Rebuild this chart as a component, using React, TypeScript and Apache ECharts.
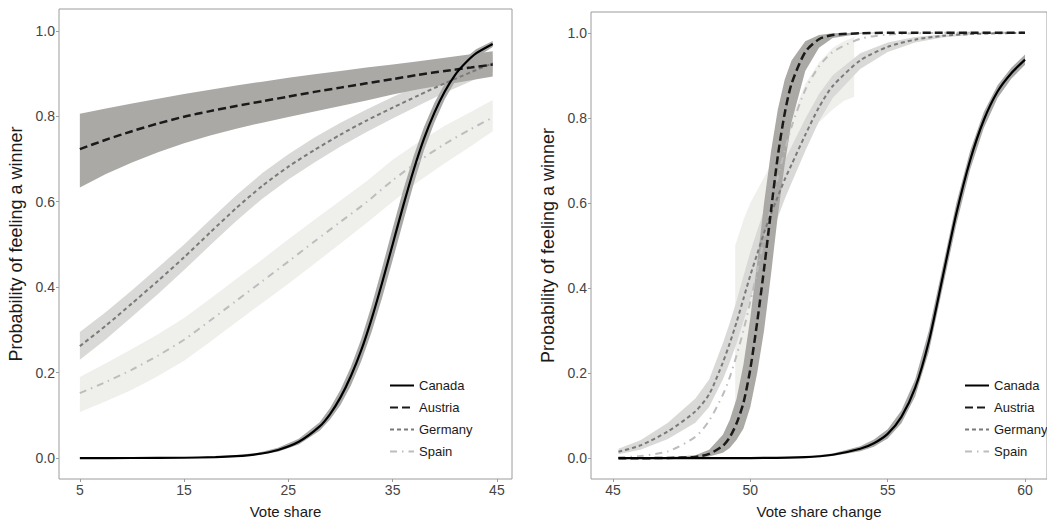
import React, { useEffect, useRef } from "react";
import * as echarts from "echarts";

// ---------- Left panel: Vote share ----------
const LEFT_X = [5, 7.5, 10, 12.5, 15, 17.5, 20, 22.5, 25, 27.5, 30, 32.5, 35, 37.5, 40, 42.5, 44.6];
const L_AUSTRIA = [0.723, 0.745, 0.765, 0.783, 0.799, 0.812, 0.824, 0.835, 0.846, 0.857, 0.867, 0.877, 0.887, 0.897, 0.906, 0.914, 0.921];
const L_AUSTRIA_HI = [0.806, 0.818, 0.83, 0.841, 0.852, 0.862, 0.872, 0.881, 0.89, 0.898, 0.906, 0.914, 0.921, 0.929, 0.937, 0.945, 0.952];
const L_AUSTRIA_LO = [0.633, 0.665, 0.692, 0.716, 0.737, 0.755, 0.771, 0.785, 0.798, 0.811, 0.824, 0.837, 0.851, 0.863, 0.874, 0.884, 0.893];
const L_GERMANY = [0.262, 0.31, 0.362, 0.415, 0.47, 0.528, 0.585, 0.637, 0.682, 0.721, 0.757, 0.79, 0.82, 0.849, 0.877, 0.903, 0.924];
const L_GERMANY_LO = [0.23, 0.278, 0.331, 0.384, 0.44, 0.498, 0.555, 0.607, 0.652, 0.692, 0.729, 0.763, 0.795, 0.825, 0.855, 0.882, 0.904];
const L_GERMANY_HI = [0.295, 0.342, 0.393, 0.446, 0.5, 0.558, 0.615, 0.667, 0.711, 0.75, 0.785, 0.816, 0.845, 0.872, 0.899, 0.923, 0.944];
const L_SPAIN = [0.152, 0.178, 0.207, 0.24, 0.277, 0.322, 0.368, 0.414, 0.46, 0.507, 0.553, 0.599, 0.65, 0.695, 0.735, 0.77, 0.797];
const L_SPAIN_LO = [0.108, 0.133, 0.16, 0.192, 0.228, 0.272, 0.318, 0.363, 0.408, 0.455, 0.502, 0.55, 0.6, 0.648, 0.69, 0.73, 0.765];
const L_SPAIN_HI = [0.19, 0.222, 0.255, 0.29, 0.328, 0.373, 0.419, 0.465, 0.512, 0.558, 0.603, 0.648, 0.698, 0.74, 0.778, 0.81, 0.838];
const L_CANADA_X = [5, 10, 15, 18, 20, 22, 24, 26, 28, 29, 30, 31, 32, 33, 34, 35, 36, 37, 38, 39, 40, 41, 42, 43, 44.6];
const L_CANADA = [0, 0.0001, 0.0007, 0.0022, 0.0045, 0.0092, 0.019, 0.038, 0.074, 0.103, 0.142, 0.192, 0.253, 0.327, 0.411, 0.5, 0.589, 0.673, 0.747, 0.808, 0.858, 0.897, 0.925, 0.947, 0.969];
const L_CANADA_LO = [0, 0, 0, 0.001, 0.003, 0.007, 0.015, 0.032, 0.064, 0.09, 0.124, 0.17, 0.227, 0.296, 0.376, 0.463, 0.552, 0.64, 0.72, 0.785, 0.84, 0.882, 0.913, 0.937, 0.962];
const L_CANADA_HI = [0.001, 0.001, 0.002, 0.004, 0.007, 0.012, 0.024, 0.045, 0.084, 0.117, 0.16, 0.214, 0.279, 0.358, 0.446, 0.537, 0.626, 0.706, 0.774, 0.831, 0.876, 0.912, 0.937, 0.957, 0.976];

// ---------- Right panel: Vote share change ----------
const RIGHT_X = [45.2, 46, 47, 48, 48.5, 49, 49.25, 49.5, 49.75, 50, 50.25, 50.5, 50.75, 51, 51.25, 51.5, 52, 52.5, 53, 54, 55, 56, 57, 58, 59, 60];
const R_AUSTRIA = [0, 0, 0.0005, 0.003, 0.01, 0.029, 0.049, 0.082, 0.13, 0.21, 0.32, 0.445, 0.58, 0.71, 0.81, 0.88, 0.955, 0.985, 0.995, 0.999, 1, 1, 1, 1, 1, 1];
const R_AUSTRIA_HI = [0, 0.0005, 0.002, 0.007, 0.02, 0.055, 0.09, 0.14, 0.22, 0.33, 0.46, 0.6, 0.72, 0.82, 0.89, 0.935, 0.98, 0.995, 0.999, 1, 1, 1, 1, 1, 1, 1];
const R_AUSTRIA_LO = [0, 0, 0, 0.001, 0.004, 0.013, 0.024, 0.043, 0.07, 0.12, 0.2, 0.3, 0.43, 0.57, 0.69, 0.79, 0.91, 0.965, 0.988, 0.998, 1, 1, 1, 1, 1, 1];
const R_GERMANY = [0.015, 0.03, 0.063, 0.11, 0.15, 0.225, 0.27, 0.32, 0.375, 0.43, 0.48, 0.53, 0.575, 0.615, 0.655, 0.69, 0.76, 0.825, 0.875, 0.935, 0.967, 0.984, 0.993, 0.997, 0.999, 1];
const R_GERMANY_LO = [0.009, 0.02, 0.045, 0.083, 0.12, 0.185, 0.225, 0.27, 0.322, 0.375, 0.425, 0.475, 0.523, 0.566, 0.609, 0.647, 0.722, 0.792, 0.847, 0.915, 0.955, 0.977, 0.989, 0.995, 0.998, 0.999];
const R_GERMANY_HI = [0.022, 0.042, 0.083, 0.14, 0.185, 0.27, 0.318, 0.37, 0.428, 0.485, 0.535, 0.583, 0.627, 0.664, 0.701, 0.733, 0.798, 0.856, 0.9, 0.952, 0.977, 0.99, 0.996, 0.999, 1, 1];
const R_SPAIN = [0.002, 0.005, 0.016, 0.05, 0.088, 0.149, 0.19, 0.242, 0.3, 0.368, 0.44, 0.515, 0.589, 0.66, 0.723, 0.779, 0.866, 0.921, 0.955, 0.986, 0.996, 0.999, 1, 1, 1, 1];
const R_SPAIN_BAND_X = [49.45, 49.75, 50, 50.25, 50.5, 50.75, 51, 51.25, 51.5, 52, 52.5, 53, 53.4, 53.78];
const R_SPAIN_HI = [0.5, 0.56, 0.6, 0.63, 0.66, 0.69, 0.73, 0.765, 0.8, 0.88, 0.93, 0.965, 0.98, 0.99];
const R_SPAIN_LO = [0.07, 0.14, 0.22, 0.33, 0.45, 0.53, 0.58, 0.63, 0.67, 0.74, 0.79, 0.82, 0.84, 0.85];
const R_CANADA_X = [45.2, 48, 50, 52, 53, 54, 54.5, 55, 55.5, 56, 56.5, 57, 57.5, 58, 58.5, 59, 59.5, 60];
const R_CANADA = [0, 0, 0.0003, 0.0025, 0.008, 0.022, 0.035, 0.057, 0.097, 0.165, 0.275, 0.425, 0.575, 0.7, 0.795, 0.862, 0.905, 0.937];
const R_CANADA_LO = [0, 0, 0, 0.001, 0.005, 0.016, 0.027, 0.046, 0.082, 0.145, 0.25, 0.4, 0.55, 0.678, 0.776, 0.847, 0.892, 0.925];
const R_CANADA_HI = [0.001, 0.001, 0.001, 0.004, 0.011, 0.028, 0.044, 0.068, 0.112, 0.185, 0.3, 0.45, 0.6, 0.722, 0.814, 0.877, 0.918, 0.949];

const COUNTRIES = ["Canada", "Austria", "Germany", "Spain"];
const LEFT_X_TICKS = [5, 15, 25, 35, 45];
const RIGHT_X_TICKS = [45, 50, 55, 60];
const Y_TICKS = [0, 0.2, 0.4, 0.6, 0.8, 1.0];

const FONT = "'Liberation Sans', Arial, Helvetica, sans-serif";
const FRAME = "#9c9c9c";

const LINE_STYLES: Record<string, any> = {
  Canada: { color: "#000000", width: 2.2, type: "solid" },
  Austria: { color: "#1a1a1a", width: 2.5, type: [8, 4] },
  Germany: { color: "#7a7a7a", width: 2, type: [4, 3] },
  Spain: { color: "#bdbdbd", width: 2, type: [7, 5, 1.5, 5] },
};
const BAND_COLORS: Record<string, string> = {
  Canada: "#a8a8a6",
  Austria: "#aba9a6",
  Germany: "#d9d9d7",
  Spain: "#efefec",
};

function band(name: string, xs: number[], lo: number[], hi: number[], panel: number) {
  return {
    type: "custom",
    name: name + " band",
    xAxisIndex: panel,
    yAxisIndex: panel,
    silent: true,
    clip: true,
    data: xs.map((x, i) => [x, lo[i], hi[i]]),
    encode: { x: 0, y: [1, 2] },
    renderItem: (params: any, api: any) => {
      if (params.dataIndex !== 0) return null;
      const pts: number[][] = [];
      for (let i = 0; i < xs.length; i++) pts.push(api.coord([xs[i], hi[i]]));
      for (let i = xs.length - 1; i >= 0; i--) pts.push(api.coord([xs[i], lo[i]]));
      return { type: "polygon", shape: { points: pts }, style: { fill: BAND_COLORS[name], stroke: null } };
    },
  };
}

function line(name: string, xs: number[], ys: number[], panel: number) {
  return {
    type: "line",
    name,
    xAxisIndex: panel,
    yAxisIndex: panel,
    data: xs.map((x, i) => [x, ys[i]]),
    symbol: "none",
    showSymbol: false,
    smooth: 0.25,
    lineStyle: LINE_STYLES[name],
    itemStyle: { color: LINE_STYLES[name].color },
    silent: true,
  };
}

function xAxis(panel: number, min: number, max: number, ticks: number[], title: string) {
  return {
    type: "value",
    gridIndex: panel,
    min,
    max,
    axisLine: { show: false, onZero: false },
    axisTick: { show: true, length: 3, lineStyle: { color: FRAME, width: 1 }, customValues: ticks },
    axisLabel: { customValues: ticks, margin: 4, fontSize: 14, color: "#444444", fontFamily: FONT },
    splitLine: { show: false },
    name: title,
    nameLocation: "middle",
    nameGap: 25,
    nameTextStyle: { fontSize: 15, color: "#1a1a1a", fontFamily: FONT },
  };
}

function yAxis(panel: number, min: number, max: number) {
  return {
    type: "value",
    gridIndex: panel,
    min,
    max,
    axisLine: { show: false, onZero: false },
    axisTick: { show: true, length: 3, lineStyle: { color: FRAME, width: 1 }, customValues: Y_TICKS },
    axisLabel: {
      customValues: Y_TICKS,
      margin: 4,
      fontSize: 14,
      color: "#444444",
      fontFamily: FONT,
      formatter: (v: number) => v.toFixed(1),
    },
    splitLine: { show: false },
    name: "Probability of feeling a winner",
    nameLocation: "middle",
    nameGap: 34,
    nameRotate: 90,
    nameTextStyle: { fontSize: 18, color: "#1a1a1a", fontFamily: FONT },
  };
}

function legend(left: number) {
  return {
    data: COUNTRIES,
    orient: "vertical",
    left,
    top: 379,
    padding: 0,
    itemWidth: 24,
    itemHeight: 14,
    itemGap: 9,
    selectedMode: false,
    itemStyle: { opacity: 0 },
    textStyle: { fontSize: 13, color: "#1a1a1a", fontFamily: FONT },
  };
}

export default function App() {
  const ref = useRef<HTMLDivElement>(null);
  useEffect(() => {
    document.body.style.margin = "0";
    const chart = echarts.init(ref.current!, null, { renderer: "svg" });
    chart.setOption({
      animation: false,
      backgroundColor: "#ffffff",
      textStyle: { fontFamily: FONT },
      grid: [
        { left: 59, top: 9, width: 453, height: 472, show: true, borderColor: FRAME, borderWidth: 1, backgroundColor: "transparent" },
        { left: 591, top: 12, width: 458, height: 469, show: true, borderColor: FRAME, borderWidth: 1, backgroundColor: "transparent" },
      ],
      xAxis: [xAxis(0, 3.0, 46.45, LEFT_X_TICKS, "Vote share"), xAxis(1, 44.2, 60.8, RIGHT_X_TICKS, "Vote share change")],
      yAxis: [yAxis(0, -0.049, 1.051), yAxis(1, -0.049, 1.049)],
      legend: [legend(389), legend(964)],
      series: [
        band("Spain", LEFT_X, L_SPAIN_LO, L_SPAIN_HI, 0),
        band("Germany", LEFT_X, L_GERMANY_LO, L_GERMANY_HI, 0),
        band("Austria", LEFT_X, L_AUSTRIA_LO, L_AUSTRIA_HI, 0),
        band("Canada", L_CANADA_X, L_CANADA_LO, L_CANADA_HI, 0),
        line("Spain", LEFT_X, L_SPAIN, 0),
        line("Germany", LEFT_X, L_GERMANY, 0),
        line("Austria", LEFT_X, L_AUSTRIA, 0),
        line("Canada", L_CANADA_X, L_CANADA, 0),
        band("Spain", R_SPAIN_BAND_X, R_SPAIN_LO, R_SPAIN_HI, 1),
        band("Germany", RIGHT_X, R_GERMANY_LO, R_GERMANY_HI, 1),
        band("Austria", RIGHT_X, R_AUSTRIA_LO, R_AUSTRIA_HI, 1),
        band("Canada", R_CANADA_X, R_CANADA_LO, R_CANADA_HI, 1),
        line("Spain", RIGHT_X, R_SPAIN, 1),
        line("Germany", RIGHT_X, R_GERMANY, 1),
        line("Austria", RIGHT_X, R_AUSTRIA, 1),
        line("Canada", R_CANADA_X, R_CANADA, 1),
      ],
    });
    return () => chart.dispose();
  }, []);
  return <div ref={ref} style={{ width: 1047, height: 524 }} />;
}
